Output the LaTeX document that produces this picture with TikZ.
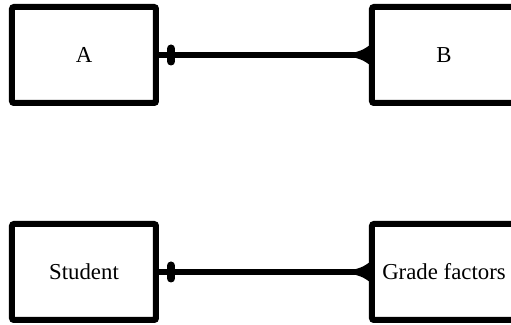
\documentclass[tikz,border=0pt]{standalone}
\usepackage{fontspec}
\setmainfont{Liberation Serif}
\usepackage{tikz}
\usetikzlibrary{positioning,decorations.markings}

\begin{document}
\begin{tikzpicture}[
    x=0.5pt, y=-0.5pt,
    entity/.style={rectangle, draw, line width=3pt, rounded corners=1pt, minimum width=72pt, minimum height=48pt, font=\fontsize{11.4}{13}\selectfont},
    rel/.style={line width=3pt, postaction={decorate}, decoration={markings,
        mark=at position 6pt with {\draw[line width=4pt, line cap=round] (0,-3.25pt) -- (0,3.25pt);},
        mark=at position 1 with {\fill (0.5pt,5pt) -- (0.5pt,-5pt) .. controls (-3pt,-2.6pt) .. (-6.5pt,-1.5pt) -- (-6.5pt,1.5pt) .. controls (-3pt,2.6pt) .. (0.5pt,5pt);}}},
]
\useasboundingbox (0,0) rectangle (511,325);

% --- Top pair ---
\node[entity] (a) at (84,55) {A};
\node[entity, right=105pt of a] (b) {B};

% --- Bottom pair ---
\node[entity, below=57.5pt of a] (student) {Student};
\node[entity, below=57.5pt of b] (grade) {Grade factors};

% --- Relationships ---
\draw[rel] (a.east) -- (b.west);
\draw[rel] (student.east) -- (grade.west);

\end{tikzpicture}
\end{document}
